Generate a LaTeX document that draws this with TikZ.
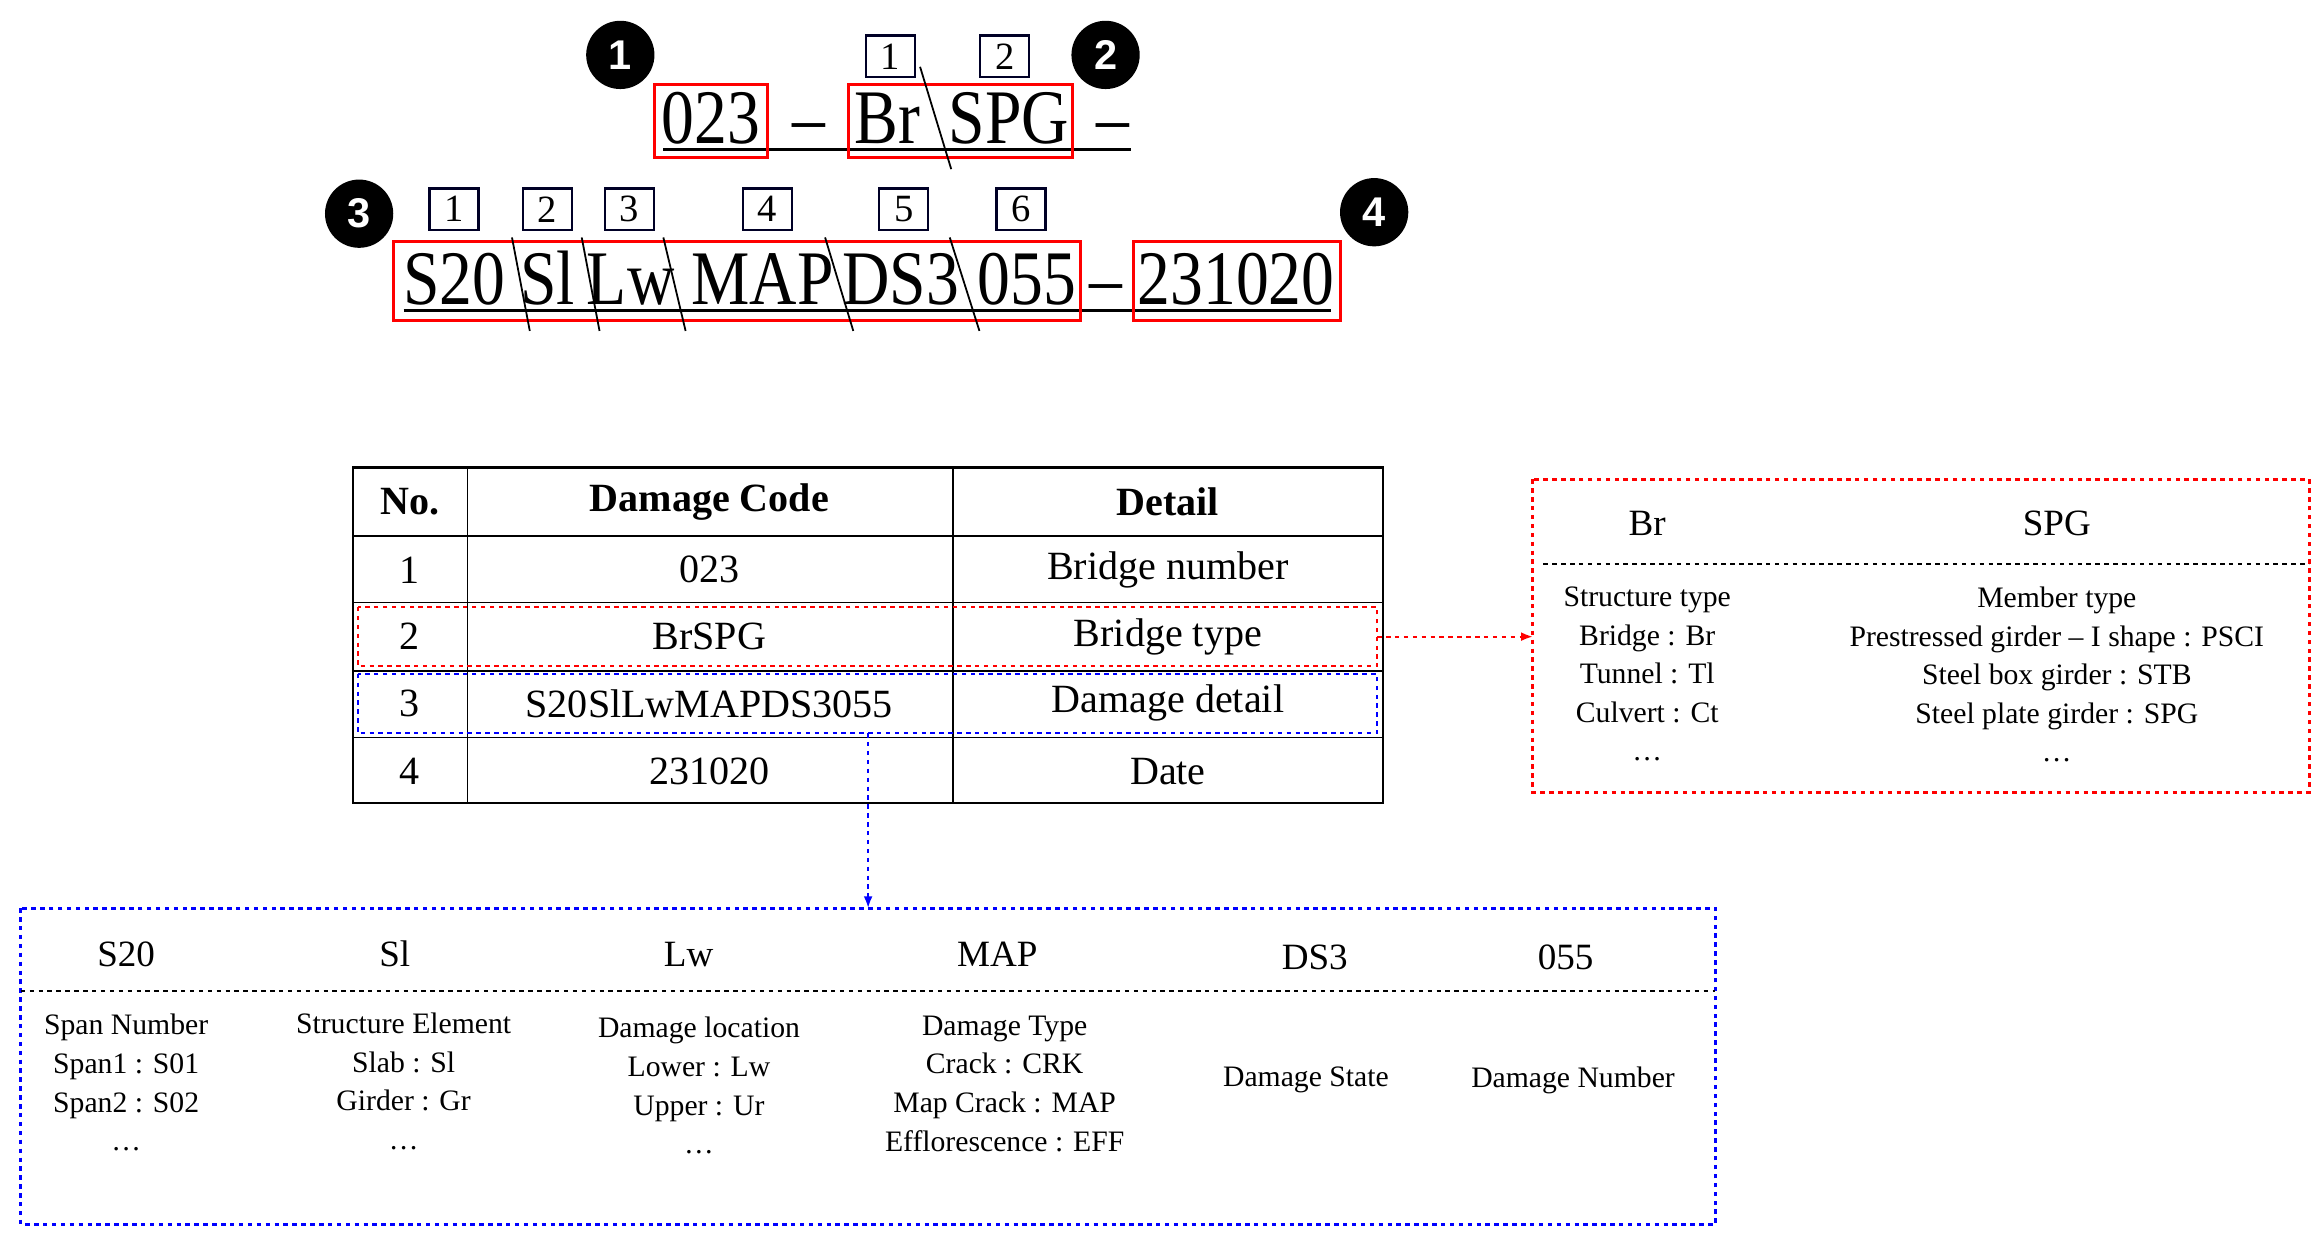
\documentclass[tikz,border=0pt]{standalone}
\usepackage{fontspec}
\setmainfont{Liberation Serif}
\newfontfamily\bigf[FakeStretch=0.85]{Liberation Serif}
\newfontfamily\sansf{Liberation Sans}
\usetikzlibrary{arrows.meta}
\begin{document}
\begin{tikzpicture}[x=1pt,y=-1pt,
  big/.style={font=\bigf\fontsize{52}{52}\selectfont,anchor=base,inner sep=0},
  tbl/.style={font=\fontsize{27}{30}\selectfont},
  tblb/.style={font=\bfseries\fontsize{27}{30}\selectfont},
  sm/.style={font=\fontsize{20}{26}\selectfont,align=center},
  hd/.style={font=\fontsize{25}{28}\selectfont},
  num/.style={draw=black!85!blue,line width=1.6pt,minimum width=33,minimum height=28,inner sep=0,font=\fontsize{26}{26}\selectfont},
  dot/.style={circle,fill=black,text=white,minimum size=46,inner sep=0,font=\sansf\bfseries\fontsize{28}{28}\selectfont},
  rbox/.style={draw=red,line width=2pt},
  slash/.style={line width=1.2pt}]
\useasboundingbox (0,0) rectangle (1560,835);
% line 1
\node[big] (t1) at (479,97) {023};
\node[big] (d1) at (545,97) {–};
\node[big] (t2) at (598,97) {Br};
\node[big] (t3) at (680,97) {SPG};
\node[big] (d2) at (750,97) {–};
\draw[line width=2pt] (447,101) -- (762,101);
\draw[rbox] (441,57) rectangle (517,106);
\draw[rbox] (572,57) rectangle (723,106);
\draw[slash] (620,45) -- (641,114);
\node[num] (n1) at (600,38) {1};
\node[num] (n2) at (677,38) {2};
\node[dot] (c1) at (418,37) {1};
\node[dot] (c2) at (745,37) {2};
% line 2
\node[big] (s1) at (306,205) {S20};
\node[big] (s2) at (369,205) {Sl};
\node[big] (s3) at (425,205) {Lw};
\node[big] (s4) at (514,205) {MAP};
\node[big] (s5) at (607,205) {DS3};
\node[big] (s6) at (692,205) {055};
\node[big] (d3) at (745,205) {–};
\node[big] (s7) at (833,205) {231020};
\draw[line width=2pt] (272,209) -- (897,209);
\draw[rbox] (265,163) rectangle (728,216);
\draw[rbox] (764,163) rectangle (903,216);
\foreach \a/\b in {345/357,392/404,447/462,556/575,640/660}
  \draw[slash] (\a,160) -- (\b,223);
\foreach \i/\x in {1/306,2/369,3/424,4/517,5/609,6/688}
  \node[num] (m\i) at (\x,141) {\i};
\node[dot] (c3) at (242,144) {3};
\node[dot] (c4) at (926,143) {4};
% table
\draw[line width=1.5pt] (238,315) rectangle (932,541);
\foreach \y in {361,406,452,497} \draw[line width=1.2pt] (238,\y) -- (932,\y);
\foreach \x in {315,642} \draw[line width=1.2pt] (\x,315) -- (\x,541);
\node[tblb] (h1) at (276,338) {No.};
\node[tblb] (h2) at (478,338) {Damage Code};
\node[tblb] (h3) at (787,338) {Detail};
\node[tbl] (r11) at (276,384) {1};
\node[tbl] (r12) at (478,384) {023};
\node[tbl] (r13) at (787,384) {Bridge number};
\node[tbl] (r21) at (276,429) {2};
\node[tbl] (r22) at (478,429) {BrSPG};
\node[tbl] (r23) at (787,429) {Bridge type};
\node[tbl] (r31) at (276,474) {3};
\node[tbl] (r32) at (478,474) {S20SlLwMAPDS3055};
\node[tbl] (r33) at (787,474) {Damage detail};
\node[tbl] (r41) at (276,520) {4};
\node[tbl] (r42) at (478,520) {231020};
\node[tbl] (r43) at (787,520) {Date};
\draw[red,dashed,line width=1.5pt] (241,409) rectangle (928,449);
\draw[blue,dashed,line width=1.5pt] (241,454) rectangle (928,494);
\coordinate (ra) at (928,429);
\coordinate (rb) at (1033,429);
\coordinate (ba) at (585,494);
\coordinate (bb) at (585,612);
\draw[red,dashed,line width=1.5pt,-{Latex[length=8pt]}] (ra) -- (rb);
\draw[blue,dashed,line width=1.5pt,-{Latex[length=8pt]}] (ba) -- (bb);
% red box
\draw[red,dashed,line width=2pt] (1033,323) rectangle (1556,534);
\draw[dashed,line width=1.5pt] (1040,380) -- (1556,380);
\node[hd] (rh1) at (1110,353) {Br};
\node[hd] (rh2) at (1386,353) {SPG};
\node[sm,anchor=north] (rt1) at (1110,392) {Structure type\\Bridge : Br\\Tunnel : Tl\\Culvert : Ct\\…};
\node[sm,anchor=north] (rt2) at (1386,392) {Member type\\Prestressed girder – I shape : PSCI\\Steel box girder : STB\\Steel plate girder : SPG\\…};
% blue box
\draw[blue,dashed,line width=2pt] (14,612) rectangle (1156,825);
\draw[dashed,line width=1.5pt] (14,668) -- (1156,668);
\node[hd] (bh1) at (85,643) {S20};
\node[hd] (bh2) at (266,643) {Sl};
\node[hd] (bh3) at (464,643) {Lw};
\node[hd] (bh4) at (672,643) {MAP};
\node[hd] (bh5) at (886,645) {DS3};
\node[hd] (bh6) at (1055,645) {055};
\node[sm,anchor=north] (bt1) at (85,680) {Span Number\\Span1 : S01\\Span2 : S02\\…};
\node[sm,anchor=north] (bt2) at (272,679) {Structure Element\\Slab : Sl\\Girder : Gr\\…};
\node[sm,anchor=north] (bt3) at (471,682) {Damage location\\Lower : Lw\\Upper : Ur\\…};
\node[sm,anchor=north] (bt4) at (677,681) {Damage Type\\Crack : CRK\\Map Crack : MAP\\Efflorescence : EFF};
\node[sm] (bt5) at (880,728) {Damage State};
\node[sm] (bt6) at (1060,728) {Damage Number};
\end{tikzpicture}
\end{document}
